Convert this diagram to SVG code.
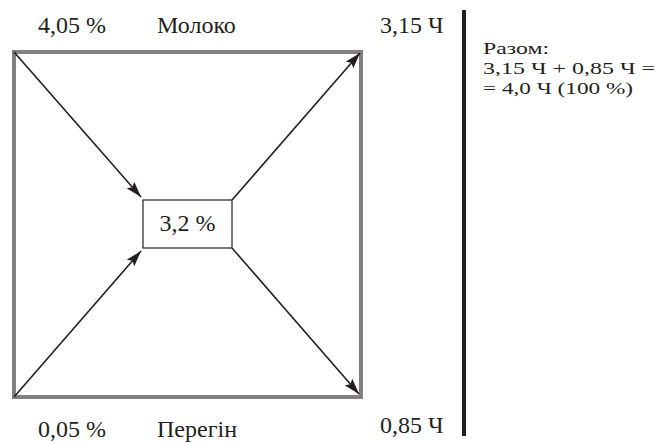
<svg xmlns="http://www.w3.org/2000/svg" width="667" height="444" viewBox="0 0 667 444">
<style>
text{font-family:"Liberation Serif","Times New Roman",serif;font-size:24px;fill:#231f20}
.c{stroke:#231f20;stroke-width:1.6;fill:none;marker-end:url(#ah)}
.r{font-size:17.5px}
</style>
<defs>
<marker id="ah" viewBox="0 0 16 10" refX="16" refY="5" markerWidth="16" markerHeight="10" markerUnits="userSpaceOnUse" orient="auto">
<path d="M0,0 L16,5 L0,10 L3,5 Z" fill="#231f20"/>
</marker>
</defs>
<g id="square"><rect x="14" y="52" width="347" height="345" fill="none" stroke="#808080" stroke-width="4"/></g>
<g id="connectors">
<line class="c" x1="14" y1="52" x2="141" y2="197"/>
<line class="c" x1="14" y1="397" x2="141" y2="251"/>
<line class="c" x1="232" y1="200" x2="360" y2="53"/>
<line class="c" x1="232" y1="248" x2="359" y2="394"/>
</g>
<g id="center"><rect x="143" y="200" width="89" height="48" fill="#fff" stroke="#231f20" stroke-width="1.2"/>
<text x="187.5" y="231" text-anchor="middle">3,2 %</text></g>
<g id="milk"><text x="38" y="33">4,05 %</text><text x="157" y="33">Молоко</text></g>
<g id="out1"><text x="380" y="33">3,15 Ч</text></g>
<g id="distil"><text x="38" y="437">0,05 %</text><text x="157" y="437">Перегін</text></g>
<g id="out2"><text x="380" y="433">0,85 Ч</text></g>
<g id="divider"><line x1="464" y1="10" x2="464" y2="436" stroke="#231f20" stroke-width="4"/></g>
<g id="total">
<text class="r" x="483" y="54" textLength="66" lengthAdjust="spacingAndGlyphs">Разом:</text>
<text class="r" x="483" y="74" textLength="172" lengthAdjust="spacingAndGlyphs">3,15 Ч + 0,85 Ч =</text>
<text class="r" x="483" y="94" textLength="150" lengthAdjust="spacingAndGlyphs">= 4,0 Ч (100 %)</text>
</g>
</svg>
